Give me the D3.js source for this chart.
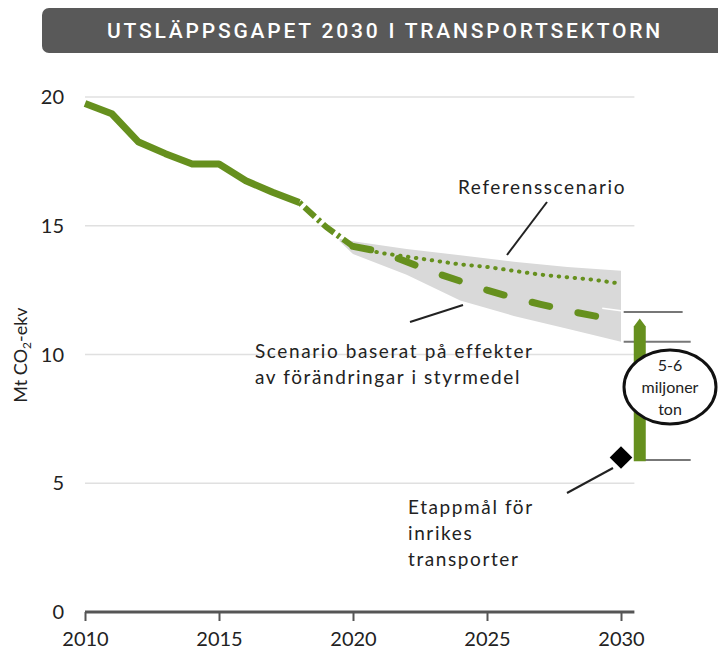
<!DOCTYPE html>
<html>
<head>
<meta charset="utf-8">
<script src="https://cdn.jsdelivr.net/npm/d3@7"></script>
<style>
  body { margin: 0; background: #fff; }
  svg { display: block; font-family: Lato, "Open Sans", sans-serif; }
</style>
</head>
<body>
<svg id="chart" width="718" height="652"></svg>
<script>
// Historic emissions, Mt CO2-ekv
const histYears = [2010, 2011, 2012, 2013, 2014, 2015, 2016, 2017, 2018];
const histValues = [19.75, 19.35, 18.25, 17.8, 17.4, 17.4, 16.75, 16.3, 15.9];

// Link between history and scenarios
const linkYears = [2018, 2019, 2020];
const linkValues = [15.9, 14.95, 14.2];

// Scenarios
const scenYears = [2020, 2021, 2022, 2023, 2024, 2025, 2026, 2027, 2028, 2029, 2030];
const refValues = [14.2, 13.95, 13.8, 13.65, 13.5, 13.4, 13.25, 13.1, 13.0, 12.9, 12.75];
const policyValues = [14.2, 14.0, 13.6, 13.2, 12.85, 12.5, 12.2, 11.95, 11.7, 11.5, 11.3];

// Uncertainty band
const bandYears = [2019.5, 2020, 2022, 2024, 2026, 2028, 2030];
const bandUpper = [14.5, 14.4, 14.1, 13.85, 13.6, 13.4, 13.25];
const bandLower = [14.4, 13.9, 13.1, 12.1, 11.5, 11.0, 10.5];

// Goal and gap
const goalYear = 2030;
const goalValue = 6.0;
const gapYear = 2030.7;
const gapTop = 11.4;
const gapBottom = 5.85;
const gapMarks = [11.65, 10.5, 5.9];

const yTicks = [0, 5, 10, 15, 20];
const xTicks = [2010, 2015, 2020, 2025, 2030];

const green = "#66901e";
const svg = d3.select("#chart");

const x = d3.scaleLinear().domain([2010, 2030]).range([85, 621]);
const y = d3.scaleLinear().domain([0, 20]).range([612, 97]);

// Title banner
svg.append("rect")
    .attr("x", 42).attr("y", 8)
    .attr("width", 700).attr("height", 45)
    .attr("rx", 7)
    .attr("fill", "#595959");
svg.append("text")
    .attr("x", 385).attr("y", 38)
    .attr("text-anchor", "middle")
    .attr("fill", "#fff")
    .style("font-family", "Roboto, sans-serif")
    .style("font-weight", 500)
    .style("font-size", "21px")
    .style("letter-spacing", "2.8px")
    .text("UTSLÄPPSGAPET 2030 I TRANSPORTSEKTORN");

// Grid
svg.append("g")
    .selectAll("line")
    .data(yTicks.filter(d => d > 0))
    .join("line")
    .attr("x1", x(2010)).attr("x2", x(2030.5))
    .attr("y1", d => y(d)).attr("y2", d => y(d))
    .attr("stroke", "#e0e0e0")
    .attr("stroke-width", 1.5);

// Y tick labels
svg.append("g")
    .selectAll("text")
    .data(yTicks)
    .join("text")
    .attr("x", 64).attr("y", d => y(d) + 7)
    .attr("text-anchor", "end")
    .attr("fill", "#222")
    .style("font-size", "20px")
    .text(d => d);

// X axis
const xAxis = svg.append("g").attr("transform", `translate(0,${y(0)})`)
    .call(d3.axisBottom(x).tickValues(xTicks).tickSize(9).tickSizeOuter(0).tickFormat(d3.format("d")));
xAxis.select(".domain").attr("stroke", "#555").attr("stroke-width", 3)
    .attr("d", `M${x(2010)},0H${x(2030.5)}`);
xAxis.selectAll(".tick line").attr("stroke", "#555").attr("stroke-width", 2);
xAxis.selectAll(".tick text")
    .attr("fill", "#222").attr("dy", "1.1em")
    .style("font-family", "Lato, sans-serif")
    .style("font-size", "20px");

// Y axis title
svg.append("text")
    .attr("transform", "translate(27,355) rotate(-90)")
    .attr("text-anchor", "middle")
    .attr("fill", "#222")
    .style("font-size", "18px")
    .html('Mt CO<tspan font-size="12px" dy="4">2</tspan><tspan dy="-4">-ekv</tspan>');

// Band
const band = d3.area()
    .x((d, i) => x(bandYears[i]))
    .y0((d, i) => y(bandLower[i]))
    .y1((d, i) => y(bandUpper[i]));
svg.append("path")
    .datum(bandYears)
    .attr("d", band)
    .attr("fill", "#d9d9d9");

// small white notch on band edge at 2030
svg.append("line")
    .attr("x1", x(2029.3)).attr("y1", y(11.8))
    .attr("x2", x(2030)).attr("y2", y(11.7))
    .attr("stroke", "#fff").attr("stroke-width", 1.5);

const line = d3.line().x(d => x(d[0])).y(d => y(d[1]));

// History
svg.append("path")
    .datum(d3.zip(histYears, histValues))
    .attr("d", line)
    .attr("fill", "none")
    .attr("stroke", green)
    .attr("stroke-width", 7)
    .attr("stroke-linejoin", "round");

// Link
svg.append("path")
    .datum(d3.zip(linkYears, linkValues))
    .attr("d", line)
    .attr("fill", "none")
    .attr("stroke", green)
    .attr("stroke-width", 6)
    .attr("stroke-dasharray", "3,4,14,4");

// Reference scenario (dotted)
svg.append("path")
    .datum(d3.zip(scenYears, refValues))
    .attr("d", line)
    .attr("fill", "none")
    .attr("stroke", green)
    .attr("stroke-width", 4)
    .attr("stroke-linecap", "round")
    .attr("stroke-dasharray", "0.5,7.5");

// Policy scenario (dashed)
svg.append("path")
    .datum(d3.zip(scenYears, policyValues))
    .attr("d", line)
    .attr("fill", "none")
    .attr("stroke", green)
    .attr("stroke-width", 7)
    .attr("stroke-linecap", "round")
    .attr("stroke-dasharray", "18,29");

// Gap reference lines
svg.append("g")
    .selectAll("line")
    .data(gapMarks)
    .join("line")
    .attr("x1", (d, i) => x(i === 2 ? 2030.85 : 2030.1))
    .attr("x2", (d, i) => x(i === 0 ? 2032.3 : 2032.6))
    .attr("y1", d => y(d)).attr("y2", d => y(d))
    .attr("stroke", "#777")
    .attr("stroke-width", 2);

// Gap arrow (green bar)
const gx = x(gapYear);
svg.append("path")
    .attr("d", `M${gx - 6},${y(gapBottom)} L${gx - 6},${y(gapTop) + 8} L${gx},${y(gapTop)} L${gx + 6},${y(gapTop) + 8} L${gx + 6},${y(gapBottom)} Z`)
    .attr("fill", green);

// Ellipse label
svg.append("ellipse")
    .attr("cx", 670).attr("cy", 387)
    .attr("rx", 46).attr("ry", 37)
    .attr("fill", "#fff")
    .attr("stroke", "#111")
    .attr("stroke-width", 3);
svg.append("text")
    .attr("text-anchor", "middle")
    .attr("fill", "#222")
    .style("font-size", "16px")
    .selectAll("tspan")
    .data(["5-6", "miljoner", "ton"])
    .join("tspan")
    .attr("x", 670)
    .attr("y", (d, i) => 371 + i * 22)
    .text(d => d);

// Goal diamond
svg.append("path")
    .attr("transform", `translate(${x(goalYear)},${y(goalValue)}) rotate(45)`)
    .attr("d", "M-8,-8H8V8H-8Z")
    .attr("fill", "#000");

// Annotations
const leaders = [
    [[547, 202], [507, 255]],
    [[410, 322], [463, 305]],
    [[567, 493], [613, 468]]
];
svg.append("g")
    .selectAll("line")
    .data(leaders)
    .join("line")
    .attr("x1", d => d[0][0]).attr("y1", d => d[0][1])
    .attr("x2", d => d[1][0]).attr("y2", d => d[1][1])
    .attr("stroke", "#222")
    .attr("stroke-width", 2);

function label(lines, lx, ly, anchor) {
    svg.append("text")
        .attr("text-anchor", anchor)
        .attr("fill", "#222")
        .style("font-size", "19px")
        .style("letter-spacing", "1.6px")
        .selectAll("tspan")
        .data(lines)
        .join("tspan")
        .attr("x", lx)
        .attr("y", (d, i) => ly + i * 26)
        .text(d => d);
}
label(["Referensscenario"], 542, 194, "middle");
label(["Scenario baserat på effekter", "av förändringar i styrmedel"], 255, 358, "start");
label(["Etappmål för", "inrikes", "transporter"], 408, 514, "start");
</script>
</body>
</html>
